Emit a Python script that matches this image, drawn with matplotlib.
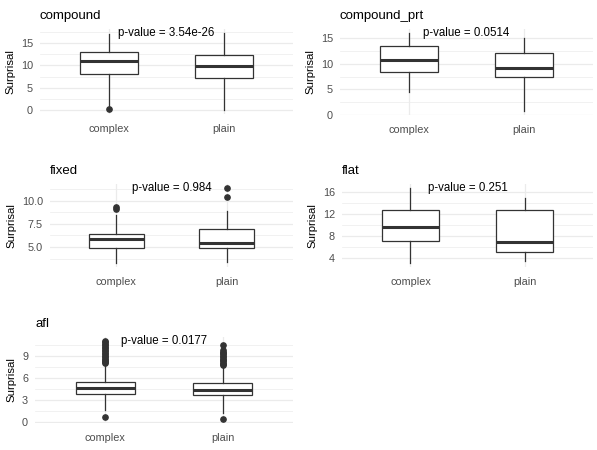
import matplotlib
matplotlib.use("Agg")
import matplotlib.pyplot as plt
from matplotlib.ticker import FixedLocator, FormatStrFormatter

# box statistics: whislo, q1, med, q3, whishi
groups = ["complex", "plain"]

compound_complex = [0.95, 8.1, 10.9, 12.9, 17.0]
compound_plain = [0.07, 7.3, 9.9, 12.4, 17.2]
compound_fliers = [[0.37], []]

prt_complex = [4.5, 8.4, 10.85, 13.6, 16.1]
prt_plain = [0.7, 7.4, 9.1, 12.2, 15.0]
prt_fliers = [[], []]

fixed_complex = [3.25, 4.93, 5.9, 6.4, 8.5]
fixed_plain = [3.43, 4.9, 5.42, 7.0, 8.9]
fixed_fliers = [[9.1, 9.3], [10.35, 11.4]]

flat_complex = [3.1, 7.2, 9.7, 12.7, 16.8]
flat_plain = [3.5, 5.2, 7.0, 12.8, 14.9]
flat_fliers = [[], []]

afl_complex = [1.7, 3.85, 4.7, 5.5, 7.85]
afl_plain = [1.25, 3.7, 4.35, 5.35, 7.6]
afl_fliers = [
    [0.78, 8.05, 8.2, 8.35, 8.5, 8.7, 8.9, 9.1, 9.3, 9.5, 9.7, 9.9, 10.1,
     10.3, 10.5, 10.7, 10.9, 11.1],
    [0.45, 7.85, 8.0, 8.15, 8.3, 8.5, 8.7, 8.9, 9.1, 9.3, 9.5, 9.65, 9.8, 10.6],
]

panels = [
    ("compound", compound_complex, compound_plain, compound_fliers, "3.54e-26",
     [0, 5, 10, 15], [2.5, 7.5, 12.5, 17.5], "%g"),
    ("compound_prt", prt_complex, prt_plain, prt_fliers, "0.0514",
     [0, 5, 10, 15], [2.5, 7.5, 12.5], "%g"),
    ("fixed", fixed_complex, fixed_plain, fixed_fliers, "0.984",
     [5.0, 7.5, 10.0], [3.75, 6.25, 8.75, 11.25], "%.1f"),
    ("flat", flat_complex, flat_plain, flat_fliers, "0.251",
     [4, 8, 12, 16], [6, 10, 14], "%g"),
    ("afl", afl_complex, afl_plain, afl_fliers, "0.0177",
     [0, 3, 6, 9], [1.5, 4.5, 7.5, 10.5], "%g"),
]

# panel rectangles in pixels: left, top, right, bottom
rects_px = [
    (40, 29, 293, 114),
    (340, 29, 593, 115),
    (50, 184, 293, 267),
    (342, 184, 593, 267),
    (35, 337, 293, 423),
]

W, H = 597, 450
plt.rcParams["font.family"] = ["Liberation Sans", "DejaVu Sans"]
fig = plt.figure(figsize=(W / 100, H / 100), dpi=100)

edge = "#333333"
grid = "#EBEBEB"

for (name, c, p, fl, pval, major, minor, fmt), (l, t, r, b) in zip(panels, rects_px):
    ax = fig.add_axes([l / W, 1 - b / H, (r - l) / W, (b - t) / H])
    stats = []
    for lab, s, f in zip(groups, [c, p], fl):
        stats.append(dict(label=lab, whislo=s[0], q1=s[1], med=s[2], q3=s[3],
                          whishi=s[4], fliers=f))
    ax.bxp(stats, positions=[1, 2], widths=0.5, showcaps=False, patch_artist=True,
           boxprops=dict(facecolor="white", edgecolor=edge, linewidth=0.9),
           whiskerprops=dict(color=edge, linewidth=0.9),
           medianprops=dict(color=edge, linewidth=2.2),
           flierprops=dict(marker="o", markerfacecolor=edge, markeredgecolor=edge,
                           markersize=3.8),
           zorder=3)
    vals = c + p + [v for f in fl for v in f]
    lo, hi = min(vals), max(vals)
    pad = (hi - lo) * 0.05
    ax.set_ylim(lo - pad, hi + pad)
    ax.set_xlim(0.4, 2.6)
    ax.yaxis.set_major_locator(FixedLocator(major))
    ax.yaxis.set_minor_locator(FixedLocator(minor))
    ax.yaxis.set_major_formatter(FormatStrFormatter(fmt))
    ax.grid(True, which="major", color=grid, linewidth=0.9, zorder=0)
    ax.grid(True, which="minor", axis="y", color=grid, linewidth=0.5, zorder=0)
    ax.set_axisbelow(True)
    for sp in ax.spines.values():
        sp.set_visible(False)
    ax.tick_params(which="both", length=0, labelsize=7.8, labelcolor="#4D4D4D")
    ax.tick_params(axis="x", pad=7)
    ax.tick_params(axis="y", pad=5)
    ax.set_ylabel("Surprisal", fontsize=8.2, labelpad=4)
    ax.set_title(name, loc="left", fontsize=9.5, pad=7)
    ax.text(1.5, hi, "p-value = " + pval, ha="center", va="center", fontsize=8.3,
            zorder=4)

fig.savefig("out.png", dpi=100)
